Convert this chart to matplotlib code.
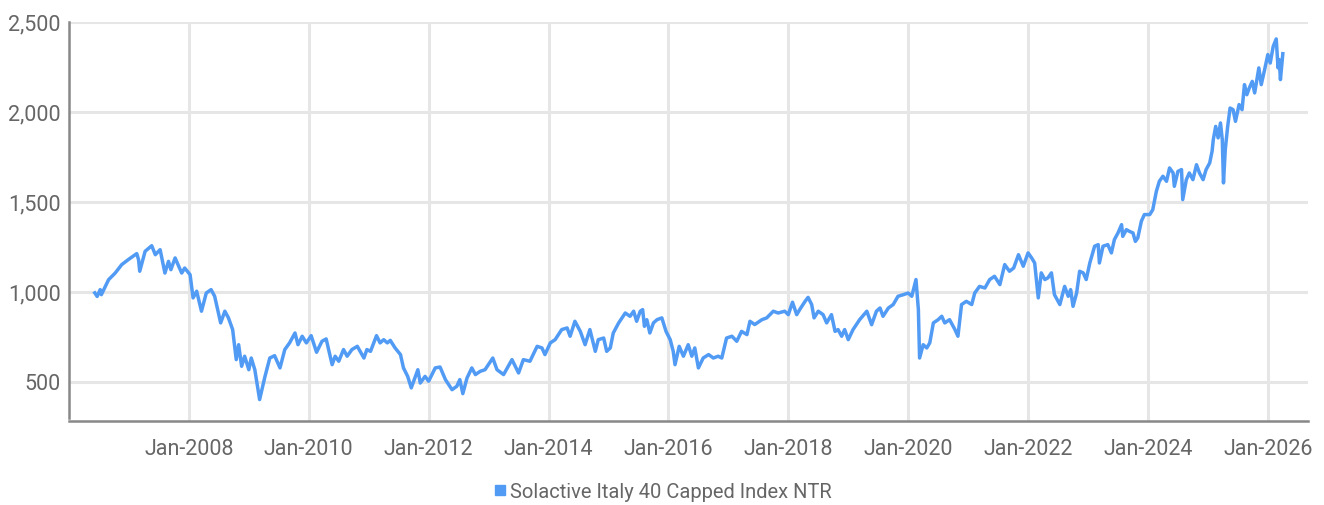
import matplotlib
matplotlib.use("Agg")
import matplotlib.pyplot as plt
from matplotlib import font_manager
from matplotlib.lines import Line2D

# ---- data (decimal year, index level) ----
years = [
    2006.43, 2006.47, 2006.52, 2006.54, 2006.66, 2006.77, 2006.88, 2006.99, 2007.13, 2007.16,
    2007.18, 2007.27, 2007.38, 2007.44, 2007.52, 2007.60, 2007.66, 2007.70, 2007.77, 2007.88,
    2007.93, 2008.02, 2008.07, 2008.13, 2008.21, 2008.29, 2008.37, 2008.43, 2008.53, 2008.60,
    2008.66, 2008.73, 2008.79, 2008.83, 2008.88, 2008.93, 2009.00, 2009.04, 2009.10, 2009.18,
    2009.27, 2009.35, 2009.43, 2009.52, 2009.60, 2009.68, 2009.77, 2009.82, 2009.89, 2009.96,
    2010.04, 2010.13, 2010.22, 2010.29, 2010.39, 2010.44, 2010.50, 2010.58, 2010.64, 2010.72,
    2010.81, 2010.92, 2010.97, 2011.03, 2011.13, 2011.19, 2011.25, 2011.31, 2011.36, 2011.44,
    2011.53, 2011.58, 2011.65, 2011.71, 2011.76, 2011.82, 2011.86, 2011.94, 2012.00, 2012.11,
    2012.19, 2012.28, 2012.39, 2012.47, 2012.52, 2012.57, 2012.64, 2012.72, 2012.78, 2012.86,
    2012.94, 2013.07, 2013.14, 2013.25, 2013.39, 2013.50, 2013.58, 2013.69, 2013.81, 2013.89,
    2013.94, 2014.03, 2014.11, 2014.22, 2014.31, 2014.36, 2014.44, 2014.53, 2014.61, 2014.69,
    2014.78, 2014.83, 2014.92, 2014.97, 2015.03, 2015.08, 2015.17, 2015.28, 2015.36, 2015.42,
    2015.47, 2015.53, 2015.57, 2015.60, 2015.64, 2015.69, 2015.75, 2015.81, 2015.89, 2015.96,
    2016.03, 2016.08, 2016.11, 2016.18, 2016.25, 2016.33, 2016.39, 2016.44, 2016.50, 2016.58,
    2016.67, 2016.75, 2016.83, 2016.89, 2016.97, 2017.06, 2017.14, 2017.22, 2017.31, 2017.36,
    2017.44, 2017.56, 2017.64, 2017.75, 2017.83, 2017.94, 2018.00, 2018.07, 2018.14, 2018.19,
    2018.28, 2018.33, 2018.39, 2018.43, 2018.50, 2018.58, 2018.64, 2018.72, 2018.78, 2018.83,
    2018.89, 2018.94, 2019.00, 2019.08, 2019.19, 2019.31, 2019.39, 2019.47, 2019.53, 2019.58,
    2019.67, 2019.75, 2019.83, 2019.92, 2020.00, 2020.06, 2020.13, 2020.17, 2020.19, 2020.25,
    2020.31, 2020.36, 2020.42, 2020.50, 2020.56, 2020.61, 2020.69, 2020.78, 2020.83, 2020.89,
    2020.97, 2021.06, 2021.11, 2021.19, 2021.28, 2021.36, 2021.44, 2021.53, 2021.61, 2021.69,
    2021.76, 2021.84, 2021.92, 2022.00, 2022.06, 2022.11, 2022.17, 2022.22, 2022.28, 2022.33,
    2022.39, 2022.44, 2022.53, 2022.61, 2022.67, 2022.71, 2022.75, 2022.81, 2022.86, 2022.92,
    2022.97, 2023.03, 2023.11, 2023.17, 2023.19, 2023.25, 2023.33, 2023.39, 2023.44, 2023.50,
    2023.56, 2023.58, 2023.64, 2023.69, 2023.75, 2023.79, 2023.83, 2023.89, 2023.94, 2024.03,
    2024.08, 2024.14, 2024.19, 2024.25, 2024.31, 2024.36, 2024.42, 2024.44, 2024.50, 2024.56,
    2024.58, 2024.64, 2024.69, 2024.75, 2024.81, 2024.86, 2024.92, 2024.97, 2025.03, 2025.07,
    2025.09, 2025.13, 2025.17, 2025.21, 2025.24, 2025.26, 2025.29, 2025.33, 2025.37, 2025.42,
    2025.46, 2025.52, 2025.57, 2025.61, 2025.65, 2025.69, 2025.74, 2025.78, 2025.85, 2025.89,
    2025.94, 2026.00, 2026.04, 2026.09, 2026.14, 2026.17, 2026.19, 2026.21, 2026.23, 2026.25,
]
values = [
    995, 975, 1013, 985, 1068, 1105, 1152, 1180, 1213, 1180,
    1115, 1226, 1257, 1207, 1235, 1105, 1170, 1124, 1189, 1105,
    1133, 1096, 967, 1004, 893, 994, 1013, 976, 828, 893,
    856, 791, 624, 707, 587, 643, 568, 633, 568, 402,
    531, 633, 646, 578, 680, 717, 772, 707, 754, 717,
    757, 665, 726, 739, 596, 643, 615, 680, 643, 680,
    698, 633, 680, 670, 757, 717, 735, 717, 731, 689,
    652, 578, 531, 467, 513, 568, 494, 531, 504, 578,
    583, 513, 457, 476, 513, 435, 522, 578, 541, 559,
    568, 633, 568, 541, 624, 550, 624, 615, 698, 689,
    652, 717, 735, 791, 800, 754, 837, 781, 707, 791,
    670, 735, 744, 670, 689, 772, 828, 883, 865, 893,
    837, 893, 902, 809, 846, 772, 828, 846, 856, 781,
    735, 670, 596, 698, 643, 707, 643, 689, 578, 633,
    652, 633, 643, 633, 744, 754, 726, 781, 763, 837,
    819, 846, 856, 893, 883, 893, 874, 943, 874, 902,
    948, 970, 930, 856, 893, 874, 828, 874, 781, 791,
    754, 791, 735, 791, 846, 893, 818, 893, 911, 865,
    911, 930, 976, 985, 994, 976, 1069, 902, 633, 707,
    689, 717, 828, 846, 865, 828, 846, 791, 754, 930,
    948, 930, 994, 1031, 1022, 1069, 1087, 1041, 1152, 1115,
    1133, 1207, 1143, 1217, 1189, 1161, 967, 1106, 1069, 1078,
    1106, 985, 930, 1031, 976, 1013, 920, 994, 1115, 1106,
    1069, 1161, 1254, 1263, 1161, 1254, 1263, 1217, 1291, 1328,
    1374, 1309, 1346, 1337, 1328, 1281, 1300, 1393, 1430, 1430,
    1457, 1559, 1615, 1643, 1615, 1689, 1661, 1587, 1670, 1680,
    1513, 1624, 1661, 1624, 1707, 1661, 1624, 1680, 1717, 1782,
    1846, 1920, 1856, 1939, 1846, 1606, 1791, 1920, 2022, 2013,
    1948, 2041, 2013, 2152, 2096, 2133, 2170, 2106, 2245, 2152,
    2226, 2319, 2272, 2365, 2406, 2245, 2291, 2180, 2254, 2324,
]
series_name = "Solactive Italy 40 Capped Index NTR"
x_tick_years = [2008, 2010, 2012, 2014, 2016, 2018, 2020, 2022, 2024, 2026]
x_tick_labels = ["Jan-%d" % y for y in x_tick_years]
y_ticks = [500, 1000, 1500, 2000, 2500]
y_tick_labels = ["500", "1,000", "1,500", "2,000", "2,500"]

# ---- fonts ----
avail = {f.name for f in font_manager.fontManager.ttflist}
fam = [f for f in ["Liberation Sans Narrow", "Roboto", "DejaVu Sans"] if f in avail]
plt.rcParams["font.family"] = fam

LINE = "#519BF5"
TXT = "#666666"

fig = plt.figure(figsize=(13.24, 5.05), dpi=100)
ax = fig.add_axes([69 / 1324, (505 - 421) / 505, (1308 - 69) / 1324, (421 - 22) / 505])

ax.plot(years, values, color=LINE, lw=2.5, solid_joinstyle="round", zorder=3)

ax.set_xlim(2006.0, 2026.67)
ax.set_ylim(283, 2500)
ax.set_xticks(x_tick_years)
ax.set_xticklabels(x_tick_labels)
ax.set_yticks(y_ticks)
ax.set_yticklabels(y_tick_labels)

ax.grid(True, color="#e6e6e6", lw=2.2, zorder=0)
ax.set_axisbelow(True)
ax.tick_params(length=0, labelsize=15.5, colors=TXT)
ax.tick_params(axis="x", pad=13)
ax.tick_params(axis="y", pad=6)

for s in ["top", "right"]:
    ax.spines[s].set_visible(False)
for s in ["left", "bottom"]:
    ax.spines[s].set_color("#888888")
    ax.spines[s].set_linewidth(1.8)
ax.spines["left"].set_bounds(300, 2500)

handle = Line2D([], [], color=LINE, marker="s", linestyle="none", markersize=7)
fig.legend([handle], [series_name], loc="center", bbox_to_anchor=(0.5, 1 - 492 / 505),
           frameon=False, fontsize=14.5, labelcolor=TXT, handletextpad=0.1,
           handlelength=0.8)

fig.savefig("out.png", dpi=100, facecolor="white")
